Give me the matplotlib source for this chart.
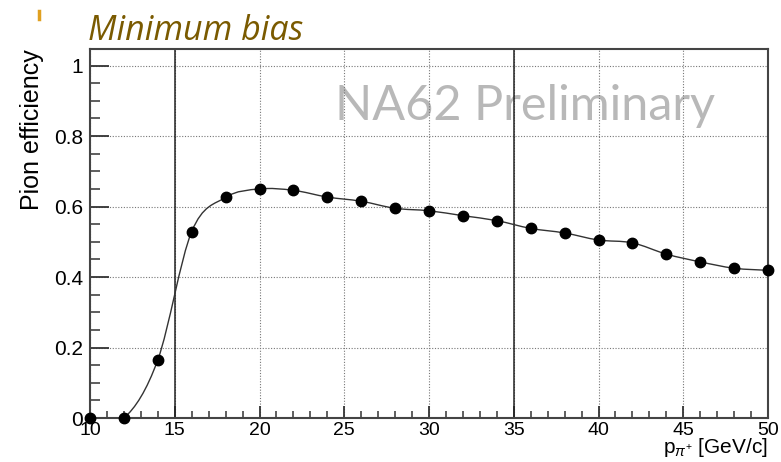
import numpy as np
import matplotlib
matplotlib.use("Agg")
import matplotlib.pyplot as plt
from matplotlib.path import Path
from matplotlib.patches import PathPatch
from matplotlib.lines import Line2D

plt.rcParams['font.family'] = ['Liberation Sans', 'DejaVu Sans']
plt.rcParams['mathtext.fontset'] = 'custom'
plt.rcParams['mathtext.rm'] = 'Liberation Sans'
plt.rcParams['mathtext.it'] = 'Liberation Sans:italic'

# pion momentum bins and measured efficiency
momentum = [10, 12, 14, 16, 18, 20, 22, 24, 26, 28, 30,
            32, 34, 36, 38, 40, 42, 44, 46, 48, 50]
efficiency = [0.0, 0.0, 0.165, 0.529, 0.626, 0.650, 0.646, 0.627, 0.615, 0.595, 0.588,
              0.574, 0.560, 0.538, 0.525, 0.505, 0.497, 0.465, 0.443, 0.425, 0.419]

# momentum window boundaries
window = [15, 35]

x_ticks = [10, 15, 20, 25, 30, 35, 40, 45, 50]
y_ticks = [0, 0.2, 0.4, 0.6, 0.8, 1]
y_tick_labels = ['0', '0.2', '0.4', '0.6', '0.8', '1']


def smooth_path(xs, ys):
    # Catmull-Rom curve through the points, written as cubic Bezier segments
    pts = np.column_stack([xs, ys]).astype(float)
    ext = np.vstack([pts[0], pts, pts[-1]])
    verts = [pts[0]]
    codes = [Path.MOVETO]
    for i in range(len(pts) - 1):
        p0, p1, p2, p3 = ext[i], ext[i + 1], ext[i + 2], ext[i + 3]
        verts += [p1 + (p2 - p0) / 6, p2 - (p3 - p1) / 6, p2]
        codes += [Path.CURVE4] * 3
    return Path(verts, codes)


fig = plt.figure(figsize=(7.81, 4.62), dpi=100)
ax = fig.add_axes([90 / 781, 44 / 462, 678 / 781, 369 / 462])

ax.set_xlim(10, 50)
ax.set_ylim(0, 1.047)

ax.grid(True, which='major', color='#777777', linestyle=(0, (1, 1.5)), linewidth=0.8)

for xv in window:
    ax.axvline(xv, color='#222222', linewidth=1.1, zorder=2)

ax.text(0.642, 0.846, 'NA62 Preliminary', transform=ax.transAxes,
        fontsize=35, family='Lato', color='#9a9a9a', alpha=0.7,
        ha='center', va='center', zorder=1.5)

ax.add_patch(PathPatch(smooth_path(momentum, efficiency), facecolor='none',
                       edgecolor='#333333', linewidth=1.0, zorder=3, clip_on=True))
ax.plot(momentum, efficiency, 'o', color='black', markersize=7.5, zorder=4, clip_on=False)

ax.set_xticks(x_ticks)
ax.set_xticks(np.arange(10, 51, 1), minor=True)
ax.set_yticks(y_ticks)
ax.set_yticklabels(y_tick_labels)
ax.set_yticks(np.arange(0, 1.01, 0.05), minor=True)

ax.tick_params(axis='both', which='both', direction='in',
               top=False, right=False, color='#333333')
ax.tick_params(axis='y', which='major', length=14, width=1.3, pad=5, labelsize=15)
ax.tick_params(axis='y', which='minor', length=7.5, width=1.1)
ax.tick_params(axis='x', which='major', length=8.5, width=1.3, pad=3, labelsize=14)
ax.tick_params(axis='x', which='minor', length=5, width=1.1)

for s in ax.spines.values():
    s.set_color('#444444')
    s.set_linewidth(1.5)

ax.set_ylabel('Pion efficiency', fontsize=18, loc='top')
ax.yaxis.set_label_coords(-0.068, 1.0)
ax.set_xlabel(r'$\mathrm{p}_{\pi^{+}}$ [GeV/c]', fontsize=15, loc='right')
ax.xaxis.set_label_coords(1.0, -0.05)

fig.text(88 / 781, 1 - 40 / 462, 'Minimum bias', fontsize=24.5, family='Open Sans',
         style='italic', color='#7a5a00', ha='left', va='baseline')
fig.add_artist(Line2D([39 / 781, 39 / 781], [1 - 11 / 462, 1 - 19 / 462],
                      color='#e0a020', linewidth=2.5))

fig.savefig('out.png', dpi=100)
